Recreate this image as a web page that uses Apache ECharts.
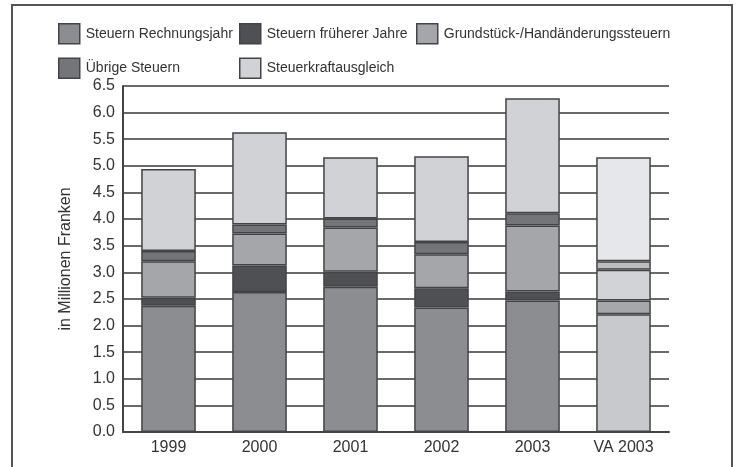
<!DOCTYPE html>
<html>
<head>
<meta charset="utf-8">
<script src="https://cdn.jsdelivr.net/npm/echarts@6/dist/echarts.min.js"></script>
<style>
  html, body { margin: 0; padding: 0; background: #fff; }
  #chart { width: 739px; height: 467px; }
</style>
</head>
<body>
<div id="chart"></div>
<script>
// Steuererträge nach Art, in Millionen Franken
const categories = ['1999', '2000', '2001', '2002', '2003', 'VA 2003'];
const steuernRechnungsjahr = [2.37, 2.63, 2.73, 2.34, 2.47, 2.21];
const steuernFruehererJahre = [0.15, 0.50, 0.28, 0.36, 0.17, 0.26];
const grundstueckSteuern = [0.69, 0.60, 0.83, 0.64, 1.24, 0.58];
const uebrigeSteuern = [0.19, 0.17, 0.17, 0.23, 0.23, 0.16];
const steuerkraftausgleich = [1.54, 1.73, 1.15, 1.61, 2.16, 1.95];
const yTicks = ['0.0', '0.5', '1.0', '1.5', '2.0', '2.5', '3.0', '3.5', '4.0', '4.5', '5.0', '5.5', '6.0', '6.5'];

const FONT = "'Liberation Sans Narrow', 'Arial Narrow', 'Liberation Sans', sans-serif";
const TEXT = '#333333';
const EDGE = '#444446';

// series definitions: name, values, colour for actual years, colour for the budget (VA) column
const seriesDefs = [
  { name: 'Steuern Rechnungsjahr', data: steuernRechnungsjahr, color: '#8b8d90', vaColor: '#c8c9cc' },
  { name: 'Steuern früherer Jahre', data: steuernFruehererJahre, color: '#4e5053', vaColor: '#a5a7aa' },
  { name: 'Grundstück-/Handänderungssteuern', data: grundstueckSteuern, color: '#a4a6a9', vaColor: '#d2d3d6' },
  { name: 'Übrige Steuern', data: uebrigeSteuern, color: '#737578', vaColor: '#bcbdc0' },
  { name: 'Steuerkraftausgleich', data: steuerkraftausgleich, color: '#d1d2d5', vaColor: '#e6e7ea' }
];

const series = seriesDefs.map(def => ({
  name: def.name,
  type: 'bar',
  stack: 'total',
  barWidth: '60%',
  itemStyle: { color: def.color, borderColor: EDGE, borderWidth: 1.5 },
  data: def.data.map((v, i) => categories[i].startsWith('VA')
    ? { value: v, itemStyle: { color: def.vaColor } }
    : v)
}));

const legendBase = {
  orient: 'vertical',
  padding: 0,
  itemWidth: 21,
  itemHeight: 20,
  itemGap: 13,
  icon: 'rect',
  textStyle: { fontFamily: FONT, fontSize: 14, color: TEXT, padding: [0, 0, 0, 1] },
  itemStyle: { borderColor: EDGE, borderWidth: 1.5 }
};

const chart = echarts.init(document.getElementById('chart'), null, { renderer: 'canvas' });
chart.setOption({
  animation: false,
  backgroundColor: '#ffffff',
  legend: [
    Object.assign({}, legendBase, { left: 58, top: 23, data: ['Steuern Rechnungsjahr', 'Übrige Steuern'] }),
    Object.assign({}, legendBase, { left: 239, top: 23, data: ['Steuern früherer Jahre', 'Steuerkraftausgleich'] }),
    Object.assign({}, legendBase, { left: 416, top: 23, data: ['Grundstück-/Handänderungssteuern'] })
  ],
  grid: { left: 123, right: 70, top: 86, bottom: 35 },
  xAxis: {
    type: 'category',
    data: categories,
    axisLine: { lineStyle: { color: EDGE, width: 2 } },
    axisTick: { show: false },
    axisLabel: { fontFamily: FONT, fontSize: 16, color: TEXT, margin: 8 }
  },
  yAxis: {
    type: 'value',
    min: 0,
    max: 6.5,
    interval: 0.5,
    name: 'in Millionen Franken',
    nameLocation: 'middle',
    nameGap: 49,
    nameTextStyle: { fontFamily: FONT, fontSize: 16, color: TEXT },
    axisLine: { show: true, lineStyle: { color: EDGE, width: 2 } },
    axisTick: { show: false },
    splitLine: { lineStyle: { color: '#6a6a6c', width: 2 } },
    axisLabel: {
      fontFamily: FONT, fontSize: 16, color: TEXT, margin: 8,
      formatter: v => yTicks[Math.round(v / 0.5)]
    }
  },
  series: series,
  graphic: [{
    type: 'rect',
    shape: { x: 12, y: 5, width: 720, height: 480 },
    style: { fill: 'none', stroke: '#555557', lineWidth: 2 },
    silent: true
  }]
});
</script>
</body>
</html>
